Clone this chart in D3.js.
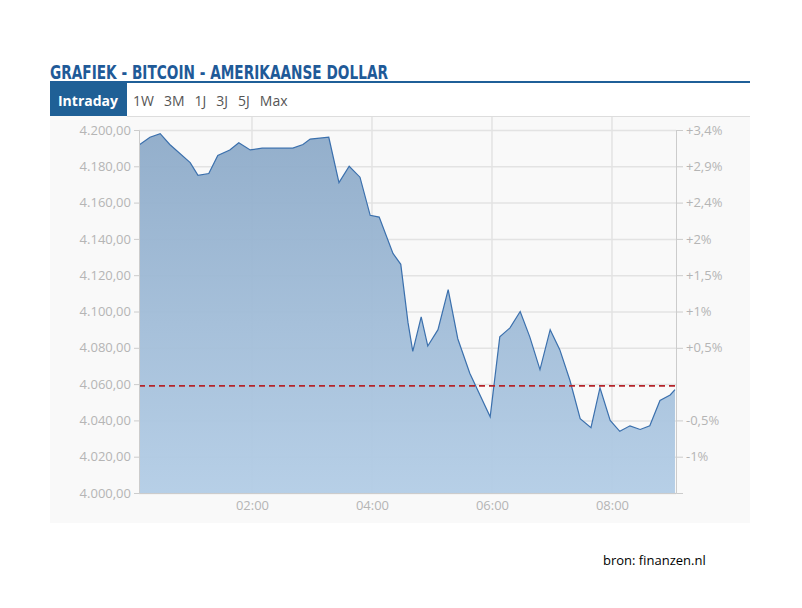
<!DOCTYPE html>
<html><head><meta charset="utf-8">
<script src="https://cdn.jsdelivr.net/npm/d3@7"></script>
<style>body{margin:0;background:#fff}</style>
</head><body>
<svg id="chart" width="802" height="608"></svg>
<script>
// hours since 00:00, price in USD
const hours = [0.13,0.30,0.47,0.63,0.97,1.10,1.28,1.43,1.63,1.78,1.97,2.17,2.68,2.85,2.97,3.28,3.45,3.62,3.80,3.97,4.12,4.35,4.48,4.60,4.68,4.82,4.93,5.10,5.27,5.43,5.63,5.97,6.13,6.30,6.47,6.63,6.80,6.97,7.13,7.30,7.47,7.65,7.80,7.97,8.13,8.30,8.47,8.63,8.80,8.97,9.05];
const prices = [4192,4196,4198,4192,4182,4175,4176,4186,4189,4193,4189,4190,4190,4192,4195,4196,4171,4180,4174,4153,4152,4132,4126,4094,4078,4097,4081,4090,4112,4085,4066,4042,4086,4091,4100,4086,4068,4090,4079,4062,4041,4036,4058,4040,4034,4037,4035,4037,4051,4054,4057];
const refPrice = 4059;
const leftTicks = [4000,4020,4040,4060,4080,4100,4120,4140,4160,4180,4200];
const rightLabels = {4200:"+3,4%",4180:"+2,9%",4160:"+2,4%",4140:"+2%",4120:"+1,5%",4100:"+1%",4080:"+0,5%",4040:"-0,5%",4020:"-1%"};
const timeTicks = [2,4,6,8];
const tabs = ["1W","3M","1J","3J","5J","Max"];

const svg = d3.select('#chart');
const x = d3.scaleLinear().domain([0.117, 9.067]).range([139, 676]);
const y = d3.scaleLinear().domain([4000, 4200]).range([493, 130]);

svg.append('rect').attr('x',50).attr('y',116).attr('width',700).attr('height',407).attr('fill','#f9f9f9');

// title
svg.append('text').attr('x',50).attr('y',79).text('GRAFIEK - BITCOIN - AMERIKAANSE DOLLAR')
  .attr('font-family','DejaVu Sans Condensed').attr('font-weight','bold').attr('font-size',19)
  .attr('fill','#1f5a98').attr('textLength',338).attr('lengthAdjust','spacingAndGlyphs');
svg.append('rect').attr('x',50).attr('y',81).attr('width',700).attr('height',2).attr('fill','#1f5f98');
svg.append('rect').attr('x',50).attr('y',83).attr('width',77).attr('height',33).attr('fill','#1f6096');
svg.append('text').attr('x',88).attr('y',106).attr('text-anchor','middle').text('Intraday')
  .attr('font-family','Open Sans').attr('font-weight','bold').attr('font-size',14).attr('fill','#fff');
let tx = 133;
tabs.forEach(t => {
  const el = svg.append('text').attr('x',tx).attr('y',106).text(t)
    .attr('font-family','Open Sans').attr('font-size',14).attr('fill','#555');
  tx += el.node().getComputedTextLength() + 10;
});
svg.append('line').attr('x1',127).attr('x2',750).attr('y1',116.5).attr('y2',116.5).attr('stroke','#ddd');

// grid
const g = svg.append('g');
g.selectAll('.hg').data(leftTicks).join('line').attr('x1',139).attr('x2',676)
  .attr('y1',d=>y(d)+0.5).attr('y2',d=>y(d)+0.5).attr('stroke','#e3e3e3').attr('stroke-width',1.5);
g.selectAll('.vg').data(timeTicks).join('line').attr('x1',d=>x(d)).attr('x2',d=>x(d))
  .attr('y1',117).attr('y2',493).attr('stroke','#e3e3e3').attr('stroke-width',1.5);

// area
const grad = svg.append('defs').append('linearGradient').attr('id','ag').attr('x1',0).attr('x2',0).attr('y1',0).attr('y2',1);
grad.append('stop').attr('offset','0%').attr('stop-color','#8eabc9');
grad.append('stop').attr('offset','100%').attr('stop-color','#b3cde6');
const pts = hours.map((h,i)=>[h,prices[i]]);
svg.append('path').datum(pts).attr('fill','url(#ag)').attr('fill-opacity',0.95)
  .attr('d', d3.area().x(d=>x(d[0])).y0(y(4000)).y1(d=>y(d[1])));
svg.append('path').datum(pts).attr('fill','none').attr('stroke','#3b70ad').attr('stroke-width',1.2)
  .attr('d', d3.line().x(d=>x(d[0])).y(d=>y(d[1])));

// reference line
svg.append('line').attr('x1',139).attr('x2',676).attr('y1',y(refPrice)).attr('y2',y(refPrice))
  .attr('stroke','#b5242a').attr('stroke-width',1.8).attr('stroke-dasharray','6,4');

// axes
const axStyle = sel => {
  sel.selectAll('text').attr('font-family','Open Sans').attr('font-size',13).attr('fill','#b5b5b5');
  sel.selectAll('line,path').attr('stroke','#ccc');
};
svg.append('g').attr('transform','translate(139,0)')
  .call(d3.axisLeft(y).tickValues(leftTicks).tickSize(5).tickFormat(d=>d3.format(',.2f')(d).replace(/,/g,'#').replace('.',',').replace(/#/g,'.')))
  .call(axStyle);
svg.append('g').attr('transform','translate(676,0)')
  .call(d3.axisRight(y).tickValues(Object.keys(rightLabels).map(Number)).tickSize(7).tickFormat(d=>rightLabels[d]))
  .call(axStyle);
svg.append('g').attr('transform','translate(0,493)')
  .call(d3.axisBottom(x).tickValues(timeTicks).tickSize(0).tickPadding(8).tickFormat(d=>'0'+d+':00'))
  .call(axStyle).select('.domain').attr('stroke','#ccc');

svg.append('text').attr('x',603).attr('y',565).text('bron: finanzen.nl')
  .attr('font-family','Open Sans').attr('font-size',13).attr('fill','#000');
</script>
</body></html>
